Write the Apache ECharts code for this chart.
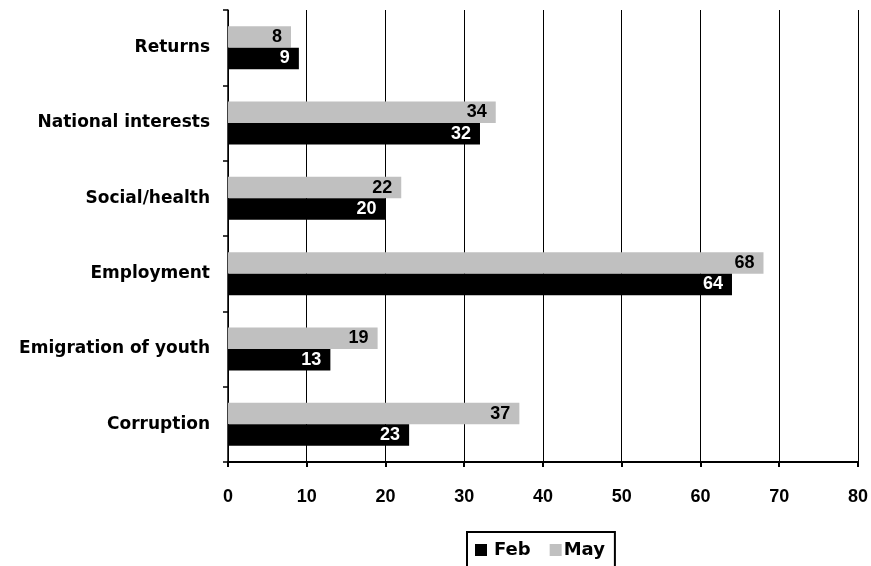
<!DOCTYPE html>
<html>
<head>
<meta charset="utf-8">
<script src="https://cdn.jsdelivr.net/npm/echarts@6/dist/echarts.min.js"></script>
<style>
  html, body { margin: 0; padding: 0; background: #fff; }
  #chart { width: 871px; height: 566px; }
</style>
</head>
<body>
<div id="chart"></div>
<script>
// Issues, listed bottom to top along the category axis
const categories = ['Corruption', 'Emigration of youth', 'Employment', 'Social/health', 'National interests', 'Returns'];
const febValues = [23, 13, 64, 20, 32, 9];
const mayValues = [37, 19, 68, 22, 34, 8];
const valueTicks = { min: 0, max: 80, interval: 10 };

const NUM_FONT = '"Liberation Sans", Arial, sans-serif';
const WIDE_FONT = '"DejaVu Sans", sans-serif';

const chart = echarts.init(document.getElementById('chart'), null, { renderer: 'canvas' });

chart.setOption({
  animation: false,
  backgroundColor: '#fff',
  textStyle: { fontFamily: NUM_FONT },
  grid: { left: 228, right: 13, top: 10, bottom: 104, containLabel: false },
  legend: {
    data: [
      { name: 'Feb', textStyle: { padding: [0, 0, 0, 2] } },
      { name: 'May', textStyle: { padding: [0, 0, 0, -3] } }
    ],
    left: 467,
    top: 532,
    orient: 'horizontal',
    itemWidth: 12,
    itemHeight: 12,
    itemGap: 19,
    icon: 'rect',
    padding: [9, 10, 20, 8],
    borderColor: '#000',
    borderWidth: 2,
    borderRadius: 0,
    textStyle: { fontFamily: WIDE_FONT, fontSize: 18, fontWeight: 'bold', color: '#000' }
  },
  xAxis: {
    type: 'value',
    min: valueTicks.min,
    max: valueTicks.max,
    interval: valueTicks.interval,
    axisLine: { show: true, lineStyle: { color: '#000', width: 2 } },
    axisTick: { show: true, length: 5, lineStyle: { color: '#000', width: 2 } },
    axisLabel: { color: '#000', fontSize: 18, fontWeight: 'bold', fontFamily: NUM_FONT, margin: 26 },
    splitLine: { show: true, lineStyle: { color: '#000', width: 1 } }
  },
  yAxis: {
    type: 'category',
    data: categories,
    axisLine: { show: true, lineStyle: { color: '#000', width: 1.5 } },
    axisTick: { show: true, length: 5, lineStyle: { color: '#000', width: 1.5 } },
    axisLabel: { color: '#000', fontSize: 17, fontWeight: 'bold', fontFamily: WIDE_FONT, margin: 18 }
  },
  series: [
    {
      name: 'May',
      type: 'bar',
      data: mayValues,
      barGap: '0%',
      barCategoryGap: '43%',
      itemStyle: { color: '#c0c0c0' },
      label: {
        show: true, position: 'insideRight', distance: 9,
        color: '#000', fontSize: 18, fontWeight: 'bold', fontFamily: NUM_FONT
      }
    },
    {
      name: 'Feb',
      type: 'bar',
      data: febValues,
      barGap: '0%',
      barCategoryGap: '43%',
      itemStyle: { color: '#000' },
      label: {
        show: true, position: 'insideRight', distance: 9,
        color: '#fff', fontSize: 18, fontWeight: 'bold', fontFamily: NUM_FONT
      }
    }
  ]
});
</script>
</body>
</html>
